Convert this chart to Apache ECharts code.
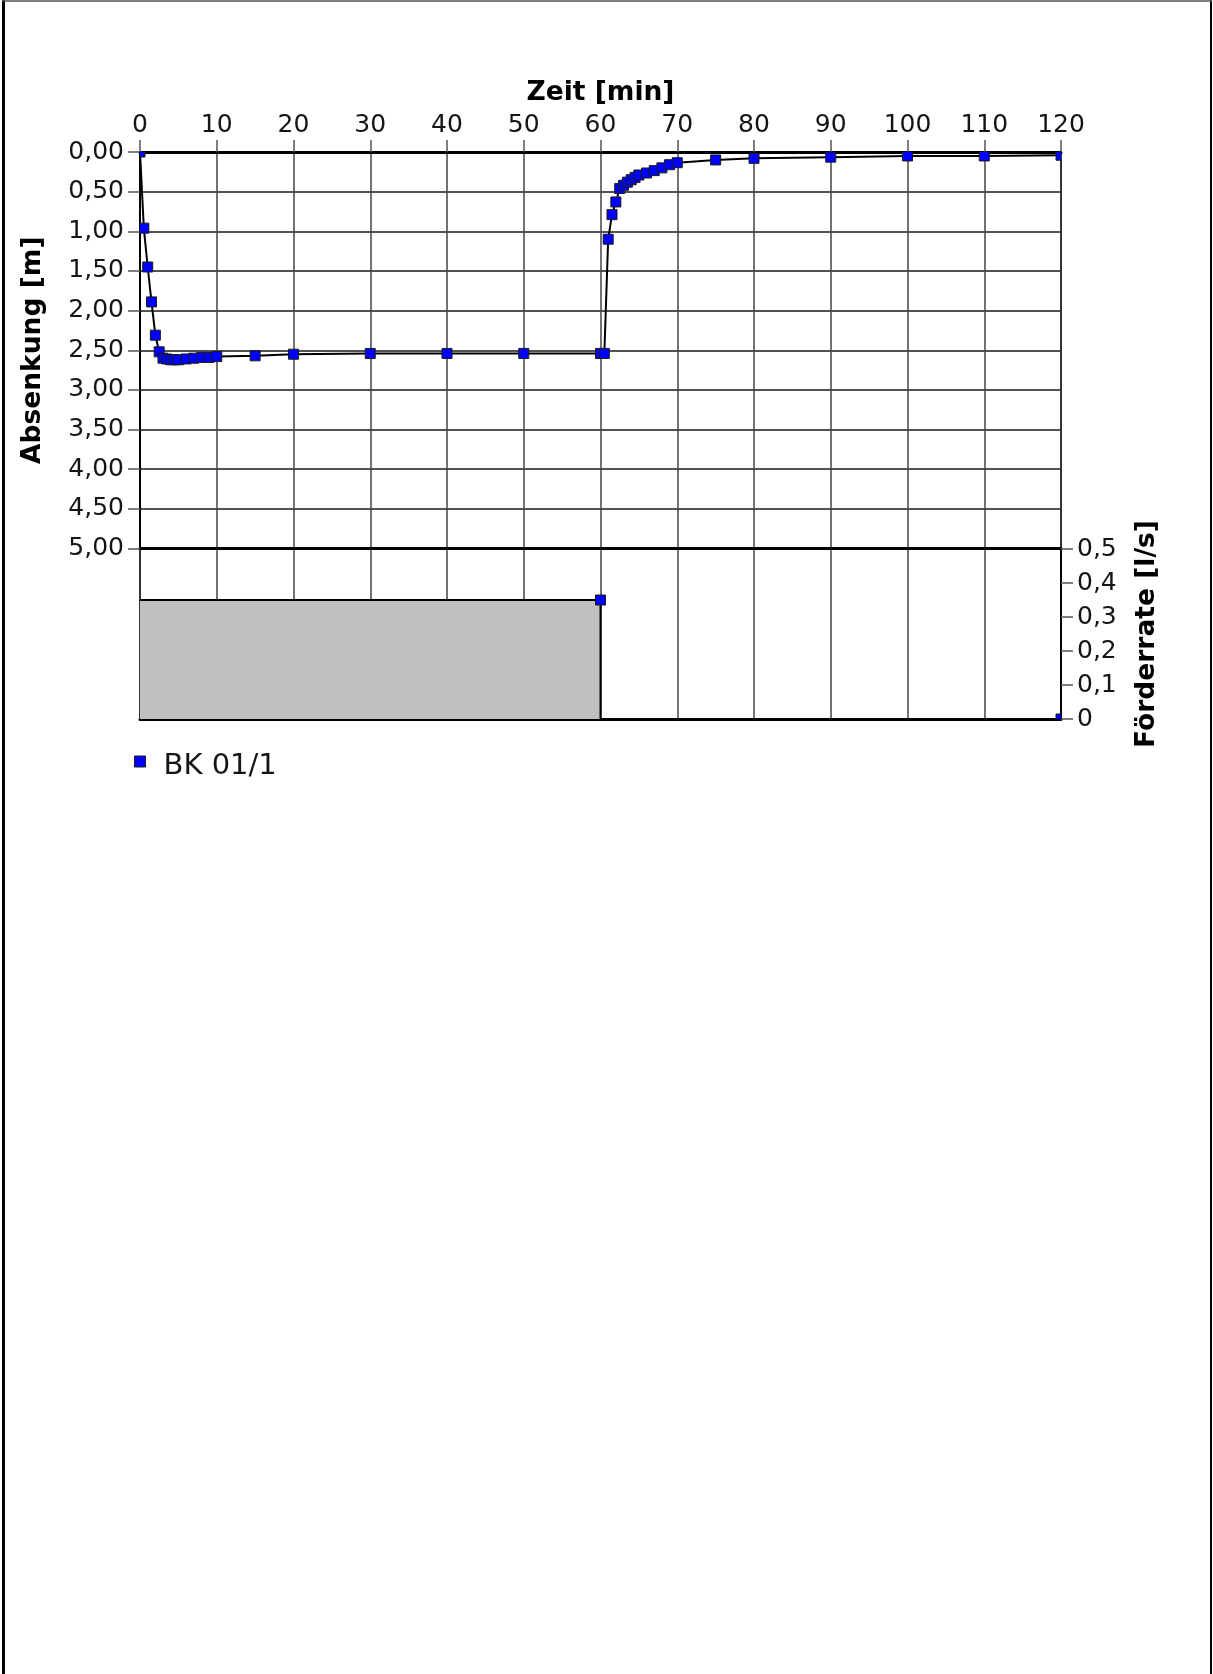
<!DOCTYPE html>
<html>
<head>
<meta charset="utf-8">
<title>BK 01/1 – Pumpversuch</title>
<script src="https://cdn.jsdelivr.net/npm/echarts@6/dist/echarts.min.js"></script>
<style>
  html, body { margin: 0; padding: 0; background: #fff; }
  #chart { width: 1213px; height: 1674px; }
</style>
</head>
<body>
<div id="chart"></div>
<script>
// Pumpversuch BK 01/1: Absenkung während Förderphase und Wiederanstieg
const seriesName = 'BK 01/1';

// Messzeitpunkte [min]
const timeMin = [0, 0.5, 1, 1.5, 2, 2.5, 3, 3.5, 4, 4.5, 5, 6, 7, 8, 9, 10,
  15, 20, 30, 40, 50, 60, 60.5, 61, 61.5, 62, 62.5, 63, 63.5, 64, 64.5, 65,
  66, 67, 68, 69, 70, 75, 80, 90, 100, 110, 120];

// Absenkung [m]
const drawdownM = [0.00, 0.96, 1.45, 1.89, 2.31, 2.52, 2.60, 2.61, 2.62, 2.62, 2.62, 2.61, 2.60, 2.59, 2.59, 2.58,
  2.57, 2.55, 2.54, 2.54, 2.54, 2.54, 2.54, 1.10, 0.79, 0.63, 0.46, 0.42, 0.38, 0.35, 0.32, 0.29,
  0.265, 0.235, 0.20, 0.16, 0.135, 0.10, 0.08, 0.065, 0.05, 0.05, 0.04];

// Förderrate [l/s] (Stufenverlauf)
const pumpTimeMin = [0, 60, 120];
const pumpRateLs = [0.35, 0.35, 0];

// Achsen
const timeTicks = { min: 0, max: 120, interval: 10 };
const drawdownTicks = { min: 0, max: 5, interval: 0.5 };
const rateTicks = { min: 0, max: 0.5, interval: 0.1 };

const drawdownData = timeMin.map((t, i) => [t, drawdownM[i]]);
const pumpData = pumpTimeMin.map((t, i) => [t, pumpRateLs[i]]);

const FONT = 'DejaVu Sans';
const TEXT = '#151515';
const TITLE_SIZE = 26.5;

function comma(v, digits) {
  return v.toFixed(digits).replace('.', ',');
}

// square marker, clipped to the plot area by the custom series
function squareMarker(params, api) {
  const p = api.coord([api.value(0), api.value(1)]);
  const s = 10;
  return {
    type: 'rect',
    shape: { x: p[0] - s / 2, y: p[1] - s / 2, width: s, height: s },
    style: { fill: '#0000ff', stroke: '#1a1a1a', lineWidth: 1 }
  };
}

const chart = echarts.init(document.getElementById('chart'), null, { renderer: 'canvas' });

chart.setOption({
  backgroundColor: '#ffffff',
  animation: false,
  textStyle: { fontFamily: FONT, color: TEXT },
  grid: [
    { left: 140, top: 152, width: 921, height: 396.5, show: true, borderColor: '#000', borderWidth: 2, backgroundColor: 'transparent' },
    { left: 140, top: 549, width: 921, height: 170, show: true, borderColor: '#000', borderWidth: 2, backgroundColor: 'transparent' }
  ],
  legend: {
    left: 134,
    top: 751.5,
    padding: 0,
    itemWidth: 11,
    itemHeight: 11,
    data: [{ name: seriesName, icon: 'rect', itemStyle: { color: '#0000ff', borderColor: '#1a1a1a', borderWidth: 1 } }],
    formatter: name => '{t|' + name + '}',
    textStyle: {
      fontFamily: FONT, fontSize: 29, color: TEXT,
      rich: { t: { fontFamily: FONT, fontSize: 29, color: TEXT, lineHeight: 38, verticalAlign: 'bottom', padding: [0, 0, 0, 13] } }
    }
  },
  xAxis: [
    {
      type: 'value', gridIndex: 0, position: 'top',
      min: timeTicks.min, max: timeTicks.max, interval: timeTicks.interval,
      name: 'Zeit [min]', nameLocation: 'middle', nameGap: 45,
      nameTextStyle: { fontFamily: FONT, fontSize: TITLE_SIZE, fontWeight: 'bold', color: '#000' },
      axisLine: { show: true, onZero: false, lineStyle: { color: '#000', width: 3 } },
      axisTick: { show: true, inside: false, length: 12, lineStyle: { color: '#555', width: 1.5 } },
      axisLabel: { show: true, margin: 14, fontFamily: FONT, fontSize: 25, color: TEXT },
      splitLine: { show: true, lineStyle: { color: '#444', width: 1.5 } }
    },
    {
      // untere Begrenzung des Absenkungsbereichs (5,00 m)
      type: 'value', gridIndex: 0, position: 'bottom',
      min: timeTicks.min, max: timeTicks.max, interval: timeTicks.interval,
      axisLine: { show: true, onZero: false, lineStyle: { color: '#000', width: 3 } },
      axisTick: { show: false },
      axisLabel: { show: false },
      splitLine: { show: false }
    },
    {
      type: 'value', gridIndex: 1, position: 'bottom',
      min: timeTicks.min, max: timeTicks.max, interval: timeTicks.interval,
      axisLine: { show: true, onZero: false, lineStyle: { color: '#000', width: 3 } },
      axisTick: { show: false },
      axisLabel: { show: false },
      splitLine: { show: true, lineStyle: { color: '#444', width: 1.5 } }
    }
  ],
  yAxis: [
    {
      type: 'value', gridIndex: 0, position: 'left', inverse: true,
      min: drawdownTicks.min, max: drawdownTicks.max, interval: drawdownTicks.interval,
      name: 'Absenkung [m]', nameLocation: 'middle', nameGap: 93,
      nameTextStyle: { fontFamily: FONT, fontSize: TITLE_SIZE, fontWeight: 'bold', color: '#000' },
      axisLine: { show: true, onZero: false, lineStyle: { color: '#000', width: 2 } },
      axisTick: { show: true, inside: false, length: 12, lineStyle: { color: '#555', width: 1.5 } },
      axisLabel: { show: true, margin: 16, fontFamily: FONT, fontSize: 25, color: TEXT, formatter: v => comma(v, 2) },
      splitLine: { show: true, lineStyle: { color: '#1a1a1a', width: 1.5 } }
    },
    {
      type: 'value', gridIndex: 1, position: 'right',
      min: rateTicks.min, max: rateTicks.max, interval: rateTicks.interval,
      name: 'Förderrate [l/s]', nameLocation: 'middle', nameGap: 73,
      nameTextStyle: { fontFamily: FONT, fontSize: TITLE_SIZE, fontWeight: 'bold', color: '#000' },
      axisLine: { show: true, onZero: false, lineStyle: { color: '#000', width: 2 } },
      axisTick: { show: true, inside: false, length: 12, lineStyle: { color: '#555', width: 1.5 } },
      axisLabel: { show: true, margin: 16, fontFamily: FONT, fontSize: 25, color: TEXT, formatter: v => (v === 0 ? '0' : comma(v, 1)) },
      splitLine: { show: false }
    }
  ],
  series: [
    {
      name: seriesName,
      type: 'line',
      xAxisIndex: 0, yAxisIndex: 0,
      data: drawdownData,
      showSymbol: false,
      symbol: 'none',
      lineStyle: { color: '#000', width: 2 },
      itemStyle: { color: '#0000ff' },
      clip: true,
      z: 3
    },
    {
      name: seriesName,
      type: 'custom',
      xAxisIndex: 0, yAxisIndex: 0,
      data: drawdownData,
      encode: { x: 0, y: 1 },
      renderItem: squareMarker,
      clip: true,
      z: 4
    },
    {
      name: 'Förderrate',
      type: 'line',
      xAxisIndex: 2, yAxisIndex: 1,
      data: pumpData,
      step: 'start',
      showSymbol: false,
      symbol: 'none',
      lineStyle: { color: '#000', width: 2 },
      areaStyle: { color: '#c0c0c0', opacity: 1 },
      clip: true,
      z: 3
    },
    {
      name: 'Förderrate',
      type: 'custom',
      xAxisIndex: 2, yAxisIndex: 1,
      data: pumpData.slice(1),
      encode: { x: 0, y: 1 },
      renderItem: squareMarker,
      clip: true,
      z: 4
    }
  ],
  graphic: [
    // Rahmen der Seite
    { type: 'line', shape: { x1: 3.5, y1: 0, x2: 3.5, y2: 1674 }, style: { stroke: '#000', lineWidth: 3 }, silent: true },
    { type: 'line', shape: { x1: 1211, y1: 0, x2: 1211, y2: 1674 }, style: { stroke: '#000', lineWidth: 2 }, silent: true },
    { type: 'line', shape: { x1: 2, y1: 1, x2: 1212, y2: 1 }, style: { stroke: '#555', lineWidth: 1.5 }, silent: true }
  ]
});
</script>
</body>
</html>
